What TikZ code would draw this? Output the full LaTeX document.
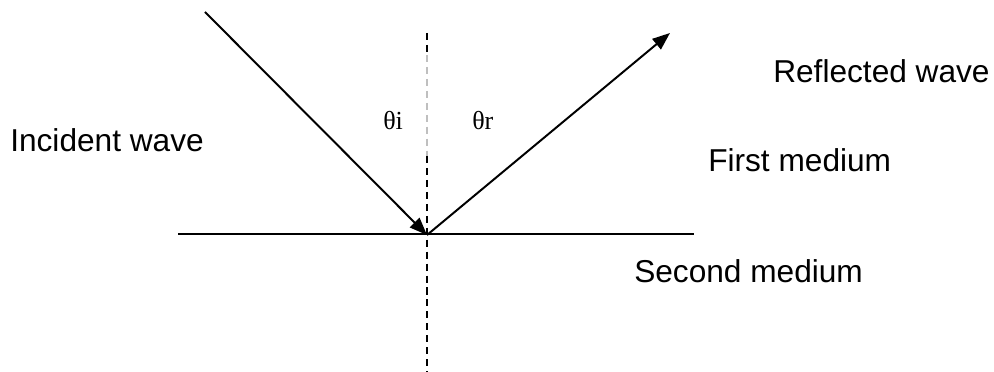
\documentclass[tikz,border=0pt]{standalone}
\usepackage{fontspec}
\setmainfont{Liberation Sans}
\newfontfamily\greekserif{Liberation Serif}
\usetikzlibrary{arrows.meta,positioning,calc}

\begin{document}
\begin{tikzpicture}[x=0.025cm, y=-0.025cm,
                    ray/.style={line width=1.4pt, -{Triangle[length=12.5pt, width=9.5pt]}},
                    normal/.style={line width=1.3pt, dash pattern=on 5pt off 3.5pt},
                    lbl/.style={anchor=base west, inner sep=0pt, font=\fontsize{22.5}{27}\selectfont},
                    ang/.style={anchor=base west, inner sep=0pt, font=\greekserif\fontsize{18.5}{22}\selectfont}]
\useasboundingbox (0,0) rectangle (994,372);
% points of the figure
\coordinate (O) at (427,235);
\coordinate (src) at (205,12);
\coordinate (tip) at (670,33);
\coordinate (ntop) at (427,33);
\coordinate (nfade) at (427,55);
\coordinate (nmid) at (427,156);
\coordinate (nbot) at (427,372);
\coordinate (sl) at (178,234);
\coordinate (sr) at (694,234);
% surface and normal
\draw[line width=1.4pt] (sl) -- (sr);
\draw[normal] (ntop) -- (nfade);
\draw[normal, black!25, line width=1pt] (nfade) -- (nmid);
\draw[normal] (nmid) -- (nbot);
% rays
\draw[ray] (src) -- (O);
\draw[ray] (O) -- (tip);
% labels
\node[lbl] (inc) at (10,152) {Incident wave};
\node[lbl] (refl) at (773,83) {Reflected wave};
\node[lbl] (first) at (708,172) {First medium};
\node[lbl] (second) at (634,283) {Second medium};
\node[ang] (thi) at (383,130) {θi};
\node[ang] (thr) at (472,130) {θr};
\end{tikzpicture}
\end{document}
